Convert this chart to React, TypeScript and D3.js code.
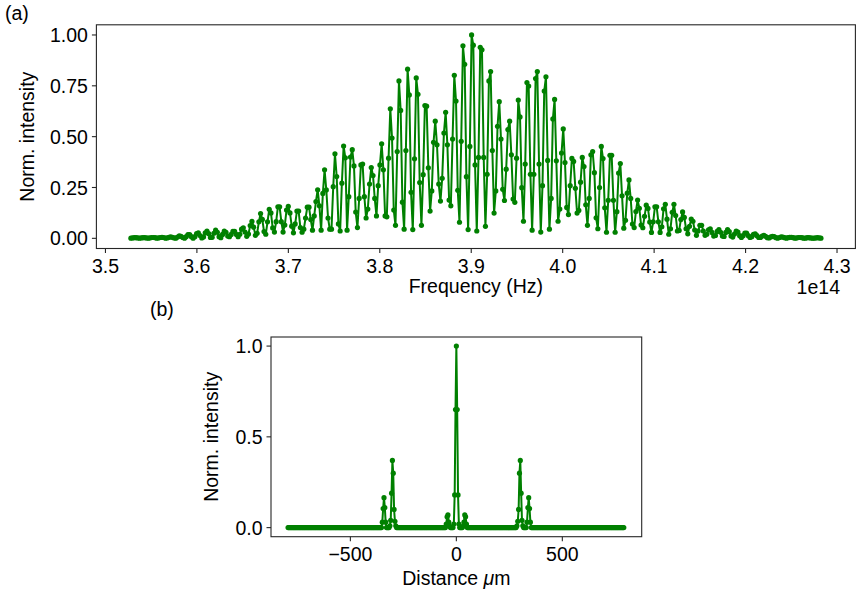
import React from 'react';
import * as d3 from 'd3';

// ---------- Data ----------
// Panel (a): spectrum, uniformly sampled in frequency
const freqStart = 3.5278e14;
const freqStep = 1.8913e11;
const intensity = [
  0.001,0.002,0.003,0.003,0.002,0.001,0.002,0.003,0.003,0.002,
  0.001,0.002,0.004,0.004,0.003,0.001,0.002,0.004,0.005,0.004,
  0.001,0.002,0.005,0.007,0.005,0.002,0.001,0.006,0.012,0.010,
  0.004,0.001,0.008,0.018,0.018,0.008,0.001,0.008,0.023,0.027,
  0.014,0.002,0.007,0.027,0.036,0.023,0.004,0.005,0.025,0.040,
  0.030,0.008,0.003,0.019,0.035,0.030,0.011,0.008,0.019,0.034,
  0.034,0.019,0.008,0.020,0.045,0.052,0.031,0.010,0.021,0.063,
  0.083,0.055,0.015,0.025,0.081,0.122,0.093,0.033,0.020,0.081,
  0.143,0.125,0.051,0.031,0.082,0.155,0.155,0.082,0.031,0.065,
  0.139,0.157,0.125,0.060,0.027,0.071,0.134,0.134,0.053,0.030,
  0.045,0.100,0.153,0.153,0.092,0.040,0.110,0.181,0.239,0.160,
  0.040,0.221,0.337,0.238,0.100,0.045,0.045,0.254,0.416,0.304,
  0.071,0.036,0.271,0.454,0.396,0.040,0.205,0.400,0.436,0.356,
  0.129,0.053,0.196,0.361,0.365,0.205,0.100,0.144,0.267,0.348,
  0.309,0.196,0.110,0.259,0.361,0.465,0.337,0.110,0.106,0.394,
  0.637,0.493,0.139,0.064,0.427,0.774,0.629,0.178,0.045,0.432,
  0.832,0.705,0.226,0.043,0.391,0.789,0.708,0.274,0.064,0.313,
  0.653,0.650,0.347,0.134,0.233,0.472,0.576,0.460,0.267,0.183,
  0.295,0.518,0.620,0.460,0.188,0.160,0.488,0.802,0.675,0.236,
  0.079,0.477,0.947,0.856,0.303,0.043,0.452,1.000,0.950,0.361,
  0.036,0.398,0.939,0.927,0.398,0.059,0.315,0.774,0.820,0.432,
  0.124,0.233,0.551,0.672,0.488,0.241,0.186,0.340,0.535,0.576,
  0.411,0.193,0.177,0.394,0.680,0.597,0.249,0.084,0.365,0.766,
  0.749,0.315,0.040,0.315,0.786,0.820,0.365,0.031,0.259,0.724,
  0.794,0.383,0.045,0.196,0.587,0.683,0.381,0.084,0.144,0.419,
  0.538,0.373,0.152,0.117,0.259,0.393,0.378,0.246,0.124,0.137,
  0.276,0.398,0.353,0.165,0.064,0.196,0.411,0.427,0.323,0.101,
  0.047,0.250,0.452,0.392,0.150,0.030,0.187,0.408,0.408,0.187,
  0.030,0.131,0.321,0.368,0.209,0.050,0.089,0.222,0.287,0.196,
  0.070,0.053,0.132,0.188,0.148,0.065,0.052,0.108,0.163,0.147,
  0.080,0.029,0.081,0.155,0.155,0.081,0.029,0.057,0.145,0.167,
  0.094,0.020,0.047,0.128,0.167,0.112,0.036,0.039,0.092,0.130,
  0.103,0.047,0.022,0.059,0.095,0.084,0.041,0.015,0.036,0.064,
  0.064,0.036,0.015,0.020,0.042,0.047,0.029,0.011,0.014,0.034,
  0.043,0.030,0.011,0.009,0.029,0.043,0.033,0.012,0.006,0.021,
  0.035,0.031,0.013,0.004,0.013,0.026,0.026,0.013,0.004,0.008,
  0.020,0.022,0.013,0.004,0.004,0.011,0.015,0.010,0.003,0.002,
  0.007,0.010,0.008,0.003,0.001,0.004,0.007,0.006,0.003,0.001,
  0.003,0.005,0.005,0.003,0.001,0.002,0.004,0.004,0.003,0.001,
  0.001,0.003,0.003,0.002,0.001,0.001,0.002,0.003,0.002,0.001,
];

// Panel (b): Fourier transform, uniformly sampled in distance (µm)
const distStart = -794;
const distStep = 3.97;
const ftIntensity = [
  0,0,0,0,0,0,0,0,0,0,
  0,0,0,0,0,0,0,0,0,0,
  0,0,0,0,0,0,0,0,0,0,
  0,0,0,0,0,0,0,0,0,0,
  0,0,0,0,0,0,0,0,0,0,
  0,0,0,0,0,0,0,0,0,0,
  0,0,0,0,0,0,0,0,0,0,
  0,0,0,0,0,0,0,0,0,0,
  0,0,0,0,0,0,0,0,0,0,
  0,0,0,0,0,0,0,0,0,0,
  0,0,0,0,0,0,0,0,0,0,
  0,0,0.03,0.105,0.165,0.11,0.03,0,0,0,
  0,0.01,0.04,0.19,0.37,0.30,0.10,0.035,0.01,0,
  0,0,0,0,0,0,0,0,0,0,
  0,0,0,0,0,0,0,0,0,0,
  0,0,0,0,0,0,0,0,0,0,
  0,0,0,0,0,0,0,0,0,0,
  0,0,0,0,0,0,0,0,0,0,
  0,0,0,0,0,0,0,0,0.02,0.06,
  0.07,0.03,0.008,0,0,0,0,0.02,0.18,0.65,
  1.0,0.65,0.18,0.02,0,0,0,0,0.008,0.03,
  0.07,0.06,0.02,0,0,0,0,0,0,0,
  0,0,0,0,0,0,0,0,0,0,
  0,0,0,0,0,0,0,0,0,0,
  0,0,0,0,0,0,0,0,0,0,
  0,0,0,0,0,0,0,0,0,0,
  0,0,0,0,0,0,0,0,0,0,
  0,0,0.01,0.035,0.10,0.30,0.37,0.19,0.04,0.01,
  0,0,0,0,0.03,0.11,0.165,0.105,0.03,0,
  0,0,0,0,0,0,0,0,0,0,
  0,0,0,0,0,0,0,0,0,0,
  0,0,0,0,0,0,0,0,0,0,
  0,0,0,0,0,0,0,0,0,0,
  0,0,0,0,0,0,0,0,0,0,
  0,0,0,0,0,0,0,0,0,0,
  0,0,0,0,0,0,0,0,0,0,
  0,0,0,0,0,0,0,0,0,0,
  0,0,0,0,0,0,0,0,0,0,
  0,0,0,0,0,0,0,0,0,0,
  0,0,0,0,0,0,0,0,0,0,
];

const freqTicks = [3.5e14, 3.6e14, 3.7e14, 3.8e14, 3.9e14, 4.0e14, 4.1e14, 4.2e14, 4.3e14];
const freqTickLabels = ['3.5', '3.6', '3.7', '3.8', '3.9', '4.0', '4.1', '4.2', '4.3'];
const yTicksA = [0, 0.25, 0.5, 0.75, 1.0];
const yTickLabelsA = ['0.00', '0.25', '0.50', '0.75', '1.00'];
const distTicks = [-500, 0, 500];
const distTickLabels = ['\u2212500', '0', '500'];
const yTicksB = [0, 0.5, 1.0];
const yTickLabelsB = ['0.0', '0.5', '1.0'];

const GREEN = '#008000';
const FONT = '"Liberation Sans", Arial, Helvetica, sans-serif';
const FS = 19.5;

type Pt = { x: number; y: number };

function Panel(props: {
  pts: Pt[];
  xDomain: [number, number];
  yDomain: [number, number];
  left: number; right: number; top: number; bottom: number;
  xTicks: number[]; xTickLabels: string[];
  yTicks: number[]; yTickLabels: string[];
  xLabel: React.ReactNode; xLabelY: number;
  yLabelX: number;
  tickLabelY: number;
  r: number;
}) {
  const { pts, left, right, top, bottom } = props;
  const x = d3.scaleLinear().domain(props.xDomain).range([left, right]);
  const y = d3.scaleLinear().domain(props.yDomain).range([bottom, top]);
  const line = d3.line<Pt>().x(d => x(d.x)).y(d => y(d.y));
  const tickLen = 4.5;
  const cy = (top + bottom) / 2;
  return (
    <g>
      <path d={line(pts) || ''} fill="none" stroke={GREEN} strokeWidth={2} strokeLinejoin="round" />
      {pts.map((d, i) => (
        <circle key={i} cx={x(d.x)} cy={y(d.y)} r={props.r} fill={GREEN} />
      ))}
      <rect x={left} y={top} width={right - left} height={bottom - top} fill="none" stroke="#262626" strokeWidth={1.1} />
      {props.xTicks.map((t, i) => (
        <g key={'xt' + i}>
          <line x1={x(t)} x2={x(t)} y1={bottom} y2={bottom + tickLen} stroke="#262626" strokeWidth={1.1} />
          <text x={x(t)} y={props.tickLabelY} textAnchor="middle" fontFamily={FONT} fontSize={FS} fill="#000">
            {props.xTickLabels[i]}
          </text>
        </g>
      ))}
      {props.yTicks.map((t, i) => (
        <g key={'yt' + i}>
          <line x1={left - tickLen} x2={left} y1={y(t)} y2={y(t)} stroke="#262626" strokeWidth={1.1} />
          <text x={left - tickLen - 4} y={y(t)} dy="0.36em" textAnchor="end" fontFamily={FONT} fontSize={FS} fill="#000">
            {props.yTickLabels[i]}
          </text>
        </g>
      ))}
      <text x={(left + right) / 2} y={props.xLabelY} textAnchor="middle" fontFamily={FONT} fontSize={FS} fill="#000">
        {props.xLabel}
      </text>
      <text transform={`translate(${props.yLabelX},${cy}) rotate(-90)`} textAnchor="middle" fontFamily={FONT} fontSize={FS} fill="#000">
        Norm. intensity
      </text>
    </g>
  );
}

export default function App() {
  const ptsA: Pt[] = intensity.map((v, i) => ({ x: freqStart + i * freqStep, y: v }));
  const ptsB: Pt[] = ftIntensity.map((v, i) => ({ x: distStart + i * distStep, y: v }));
  return (
    <svg width={856} height={598} style={{ position: 'absolute', left: 0, top: 0, background: '#fff' }}>
      <rect x={0} y={0} width={856} height={598} fill="#fff" />
      <Panel
        pts={ptsA}
        xDomain={[3.4901e14, 4.3201e14]}
        yDomain={[-0.05, 1.05]}
        left={96.4} right={855.4} top={24.8} bottom={248.5}
        xTicks={freqTicks} xTickLabels={freqTickLabels}
        yTicks={yTicksA} yTickLabels={yTickLabelsA}
        xLabel="Frequency (Hz)" xLabelY={293}
        yLabelX={34}
        tickLabelY={273}
        r={2.6}
      />
      <text x={840} y={294} textAnchor="end" fontFamily={FONT} fontSize={FS}>1e14</text>
      <text x={5} y={20} fontFamily={FONT} fontSize={FS}>(a)</text>
      <Panel
        pts={ptsB}
        xDomain={[-874.5, 874.5]}
        yDomain={[-0.05, 1.05]}
        left={271} right={641.7} top={337} bottom={536.7}
        xTicks={distTicks} xTickLabels={distTickLabels}
        yTicks={yTicksB} yTickLabels={yTickLabelsB}
        xLabel={<>Distance <tspan fontStyle="italic">μ</tspan>m</>} xLabelY={585}
        yLabelX={218}
        tickLabelY={561}
        r={2.6}
      />
      <text x={150} y={316} fontFamily={FONT} fontSize={FS}>(b)</text>
    </svg>
  );
}
